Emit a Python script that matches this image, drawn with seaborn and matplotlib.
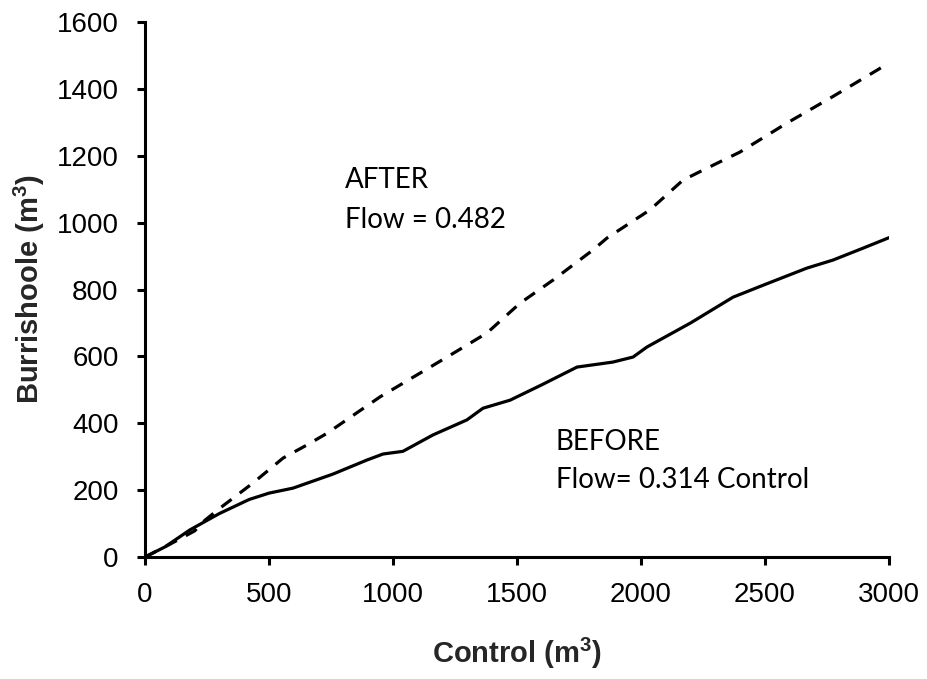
import matplotlib
matplotlib.use("Agg")
import matplotlib.pyplot as plt
import seaborn as sns
import pandas as pd

# BEFORE (solid) cumulative series
before_x = [0, 80, 181, 300, 420, 500, 597, 758, 895, 960, 1040, 1161, 1298, 1363, 1472, 1600, 1742, 1887, 1968, 2024, 2200, 2371, 2500, 2669, 2774, 2900, 3000]
before_y = [0, 30, 81, 130, 172, 191, 206, 248, 290, 308, 316, 365, 410, 445, 469, 515, 568, 583, 598, 628, 700, 777, 815, 864, 888, 925, 955]

# AFTER (dashed) cumulative series
after_x = [0, 100, 200, 242, 302, 435, 557, 653, 734, 948, 1218, 1379, 1512, 1645, 1806, 1863, 2036, 2169, 2250, 2399, 2589, 2762, 2952, 3000]
after_y = [0, 38, 78, 110, 146, 221, 296, 335, 370, 479, 598, 670, 759, 828, 918, 954, 1038, 1127, 1157, 1211, 1298, 1372, 1456, 1478]

x_ticks = [0, 500, 1000, 1500, 2000, 2500, 3000]
y_ticks = [0, 200, 400, 600, 800, 1000, 1200, 1400, 1600]

sns.set_style("white")
plt.rcParams["font.family"] = ["Liberation Sans", "DejaVu Sans"]
plt.rcParams["mathtext.fontset"] = "custom"
plt.rcParams["mathtext.rm"] = "Liberation Sans"
plt.rcParams["mathtext.bf"] = "Liberation Sans:bold"

df = pd.concat([
    pd.DataFrame({"Control": before_x, "Burrishoole": before_y, "Period": "BEFORE"}),
    pd.DataFrame({"Control": after_x, "Burrishoole": after_y, "Period": "AFTER"}),
])

fig = plt.figure(figsize=(9.27, 6.79), dpi=100)
ax = fig.add_axes([145/927, 1 - 557/679, (889-145)/927, (557-22)/679])

sns.lineplot(data=df, x="Control", y="Burrishoole", hue="Period", style="Period",
             palette={"BEFORE": "black", "AFTER": "black"},
             dashes={"BEFORE": "", "AFTER": (4.0, 3.2)},
             linewidth=2.3, legend=False, ax=ax, sort=False, estimator=None)

ax.set_xlim(0, 3000)
ax.set_ylim(0, 1600)
ax.set_xticks(x_ticks)
ax.set_yticks(y_ticks)
ax.set_xticklabels([str(v) for v in x_ticks])
ax.set_yticklabels([str(v) for v in y_ticks])

for s in ["top", "right"]:
    ax.spines[s].set_visible(False)
for s in ["left", "bottom"]:
    ax.spines[s].set_linewidth(2.2)
    ax.spines[s].set_color("black")

ax.tick_params(axis="both", direction="out", length=6, width=2.2, colors="black",
               labelsize=20, bottom=True, left=True)
ax.tick_params(axis="y", pad=13)
ax.tick_params(axis="x", pad=12)

ax.set_xlabel(r"Control (m$^{\mathbf{3}}$)", fontsize=21, fontweight="bold", labelpad=20)
ax.set_ylabel(r"Burrishoole (m$^{\mathbf{3}}$)", fontsize=21, fontweight="bold", labelpad=7)

tfont = dict(fontsize=20, family=["Lato", "DejaVu Sans"], va="baseline", ha="left", color="black")
ax.text(806, 1103, "AFTER", **tfont)
ax.text(806, 984, "Flow = 0.482", **tfont)
ax.text(1657, 320, "BEFORE", **tfont)
ax.text(1657, 206, "Flow= 0.314 Control", **tfont)

fig.savefig("out.png", dpi=100)
